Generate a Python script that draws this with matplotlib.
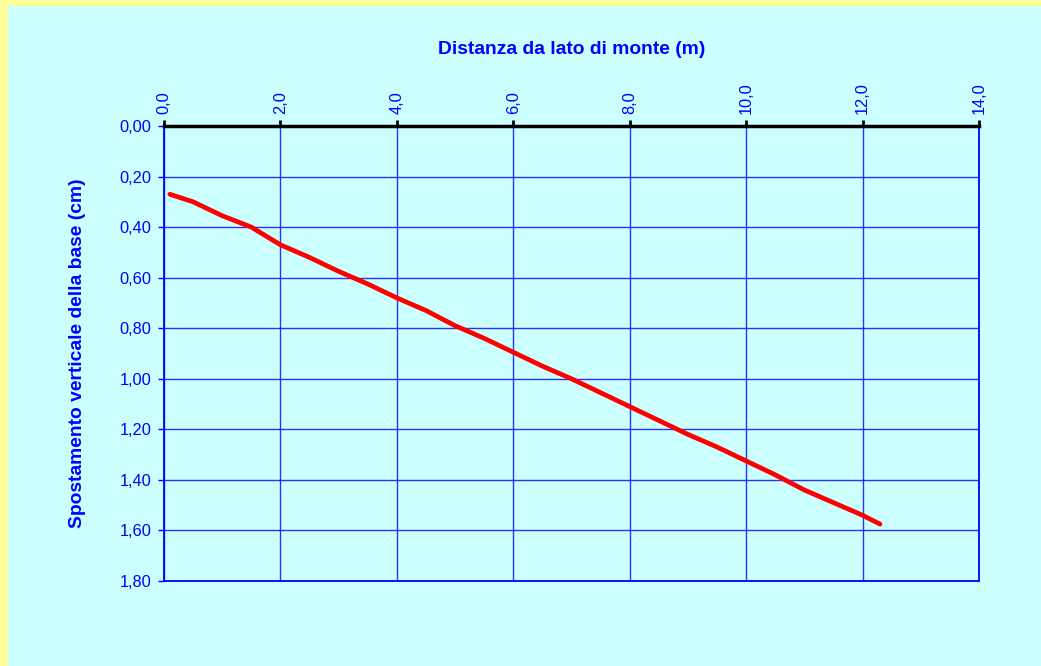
import matplotlib.pyplot as plt
from matplotlib.patches import Rectangle
from matplotlib.ticker import FuncFormatter, MultipleLocator

# dati
distanza = [0.1, 0.5, 1.0, 1.5, 2.0, 2.5, 3.0, 3.5, 4.0, 4.5, 5.0, 5.5, 6.0,
            6.5, 7.0, 7.5, 8.0, 8.5, 9.0, 9.5, 10.0, 10.5, 11.0, 11.5, 12.0, 12.3]
spostamento = [0.27, 0.30, 0.355, 0.40, 0.47, 0.52, 0.575, 0.625, 0.68, 0.73,
               0.79, 0.84, 0.895, 0.95, 1.00, 1.055, 1.11, 1.165, 1.22, 1.27,
               1.325, 1.38, 1.44, 1.49, 1.54, 1.575]

W, H = 1041, 666
plt.rcParams['font.family'] = ['Liberation Sans', 'DejaVu Sans']

fig = plt.figure(figsize=(W / 100, H / 100), dpi=100)
fig.patch.set_facecolor('#FFFF99')
fig.patches.append(Rectangle((8 / W, 0), 1 - 8 / W, 1 - 6 / H, transform=fig.transFigure,
                             facecolor='#CCFFFF', edgecolor='none', zorder=-10))

x0, x1, y0, y1 = 164, 979, 126, 581
ax = fig.add_axes([x0 / W, 1 - y1 / H, (x1 - x0) / W, (y1 - y0) / H])
ax.set_facecolor('#CCFFFF')

ax.plot(distanza, spostamento, color='red', lw=3.4, solid_capstyle='round', zorder=5)

ax.set_xlim(0, 14)
ax.set_ylim(1.8, 0)
ax.xaxis.set_major_locator(MultipleLocator(2))
ax.yaxis.set_major_locator(MultipleLocator(0.2))
ax.xaxis.set_major_formatter(FuncFormatter(lambda v, p: f"{v:.1f}".replace('.', ',')))
ax.yaxis.set_major_formatter(FuncFormatter(lambda v, p: f"{v:.2f}".replace('.', ',')))

ax.xaxis.tick_top()
ax.xaxis.set_label_position('top')
ax.grid(True, color='#0000FF', lw=1, alpha=0.8)
ax.set_axisbelow(True)

for s in ['left', 'right', 'bottom']:
    ax.spines[s].set_color('#0000FF')
    ax.spines[s].set_linewidth(1.3)
ax.spines['top'].set_color('black')
ax.spines['top'].set_linewidth(2.5)

ax.tick_params(axis='x', colors='black', labelcolor='#0000FF', length=4, width=2,
               labelsize=11.8, labelrotation=90, pad=5)
ax.tick_params(axis='y', colors='#0000FF', labelcolor='#0000FF', length=4, width=1,
               labelsize=11.8, pad=5)

ax.set_xlabel('Distanza da lato di monte (m)', color='#0000FF', fontweight='bold',
              fontsize=13.9, labelpad=20)
ax.set_ylabel('Spostamento verticale della base (cm)', color='#0000FF', fontweight='bold',
              fontsize=13.9, labelpad=24)

fig.savefig('out.png', dpi=100, facecolor=fig.get_facecolor())
